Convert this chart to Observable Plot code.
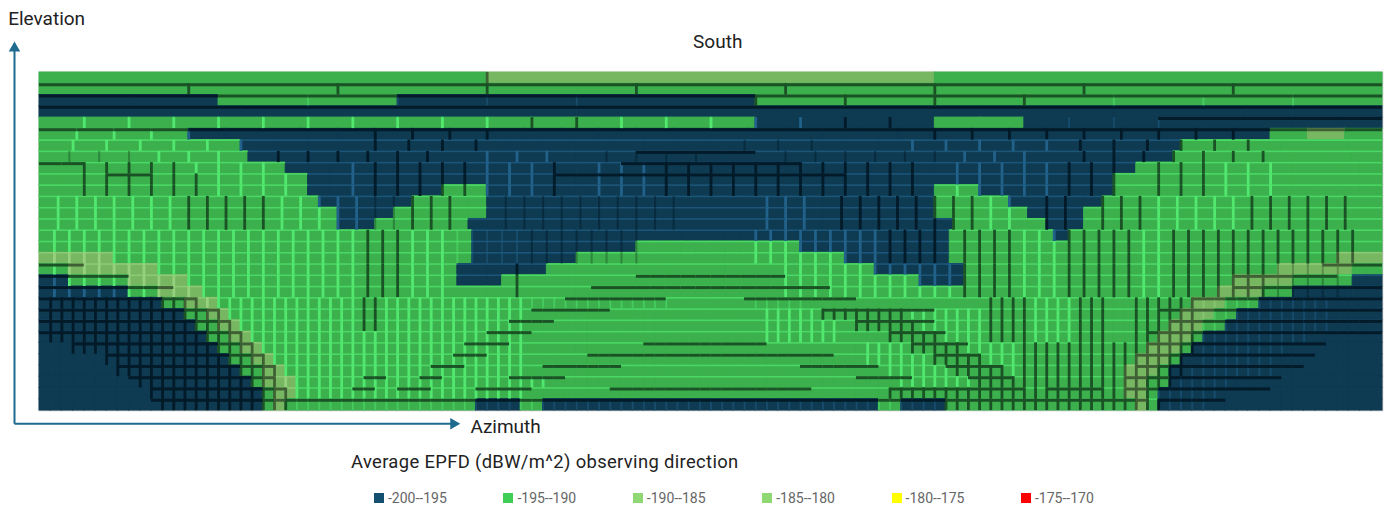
<!DOCTYPE html>
<html>
<head>
<meta charset="utf-8">
<script src="https://cdn.jsdelivr.net/npm/d3@7"></script>
<script src="https://cdn.jsdelivr.net/npm/@observablehq/plot@0.6"></script>
<style>
  html, body { margin: 0; padding: 0; background: #fff; }
  body { width: 1386px; height: 508px; overflow: hidden; font-family: Roboto, sans-serif; }
  #chart svg { display: block; }
  #chart svg g[aria-label="rect"], #chart svg g[aria-label="rule"] { filter: blur(0.45px); }
  #title { position: absolute; left: 351px; top: 451px; font-size: 18.4px; letter-spacing: 0.35px; color: #222; white-space: nowrap; }
  #legend { position: absolute; left: 374px; top: 490px; display: flex; font-size: 14px; color: #666; }
  #legend .item { width: 129.4px; display: flex; align-items: center; white-space: nowrap; }
  #legend .sw { width: 10px; height: 10px; margin-right: 4px; flex: none; }
</style>
</head>
<body>
<div id="chart"></div>
<div id="title"></div>
<div id="legend"></div>
<script>
// Legend
const legendLabels = ["-200--195", "-195--190", "-190--185", "-185--180", "-180--175", "-175--170"];
const legendColors = ["#14506f", "#3fcf57", "#90d873", "#90d873", "#ffff00", "#ff0000"];

// Classes seen on the map (N = -200..-195, G = -195..-190, O = -190..-185)
const classKeys = ["N", "G", "O"];
const classFills = ["#0e3a52", "#3bb04c", "#78b762"];
const seamLight = {N: "#22628a", G: "#52e870", O: "#96d27e"};
const seamDark = {N: "#031a28", G: "#1a5125", O: "#3f6034"};

// Cells per elevation band, from 87-90 deg down to 0-3 deg
const cellsPerBand = [3, 9, 15, 20, 30, 36, 40, 45, 60, 60, 60, 72, 72, 72, 90, 90, 90, 90, 90, 90,
  120, 120, 120, 120, 120, 120, 120, 120, 120, 120];

// EPFD class of the cells along each band, as run lengths from azimuth 0
const bandRuns = [
  "1G 1O 1G",
  "9G",
  "2N 2G 4N 7G",
  "20N",
  "16G 4N 2G 8N",
  "4G 29N 1G 1O 1G",
  "6G 28N 6G",
  "7G 31N 7G",
  "11G 38N 11G",
  "12G 36N 12G",
  "12G 6N 2G 20N 2G 6N 12G",
  "15G 5N 4G 24N 4G 5N 15G",
  "16G 3N 5G 24N 5G 3N 16G",
  "16G 2N 5G 26N 5G 2N 16G",
  "29G 32N 7G 1N 21G",
  "29G 11N 11G 10N 29G",
  "5O 24G 7N 18G 7N 26G 3O",
  "2G 6O 20G 6N 22G 6N 21G 5O 2G",
  "2N 4G 4O 18G 3N 28G 3N 18G 4O 4G 2N",
  "6N 2G 3O 68G 3O 2G 6N",
  "11N 2G 3O 87G 3O 3G 11N",
  "13N 2G 2O 85G 3O 2G 13N",
  "14N 2G 2O 83G 3O 2G 14N",
  "15N 2G 2O 81G 3O 1G 16N",
  "16N 2G 2O 79G 3O 1G 17N",
  "17N 2G 2O 77G 3O 1G 18N",
  "18N 2G 2O 75G 3O 1G 19N",
  "19N 1G 3O 74G 2O 2G 19N",
  "20N 1G 2O 74G 2O 1G 20N",
  "20N 1G 1O 17G 4N 2G 30N 2G 4N 17G 1O 1G 20N"
];

// Seams between neighbouring cells of a band: azimuth range + kind
// L light, l faint light, D dark, d faint dark
const verticalSeams = [
  "0-130D",
  "0-360D",
  "60-150l 190-270D 270-340l 340-360D",
  "",
  "0-125L 125-150D 150-208L 208-235D 270-305l",
  "0-40L 85-125D 235-325D",
  "0-55L 85-125D 185-210d 232-272L 275-325D",
  "0-30d 30-55L 60-110D 120-143L 145-180d 195-240d 240-270L 275-328D",
  "8-37D 38-62L 82-86L 88-116D 118-134L 136-140D 148-164L 165-235D 244-272L 273-290D 298-313D 315-332L",
  "8-42D 42-70L 82-86L 88-116D 118-134L 136-140D 148-164L 165-235D 244-272L 273-290D 298-313D 315-332L",
  "8-42D 42-70L 82-86L 88-116D 118-134L 136-140D 148-164L 165-235D 244-272L 273-290D 298-313D 315-332L",
  "0-38L 38-60D 60-88L 90-98d 100-112D 125-170d 195-207L 215-236D 240-252D 252-262L 268-278D 284-296D 297-322L 324-352D",
  "0-38L 38-60D 60-88L 90-98d 100-112D 125-170d 195-207L 215-236D 240-252D 252-262L 268-278D 284-296D 297-322L 324-352D",
  "0-38L 38-60D 60-88L 90-98d 100-112D 125-170d 195-207L 215-236D 240-252D 252-262L 268-278D 284-296D 297-322L 324-352D",
  "0-86L 87-96D 97-110L 110-130l 130-160d 190-225L 227-243D 247-260D 262-273L 275-292D 293-302L 303-328D 328-352D",
  "0-86L 87-96D 97-110L 110-130l 130-160d 190-225L 227-243D 247-260D 262-273L 275-292D 293-302L 303-328D 328-352D",
  "0-86L 87-96D 97-110L 110-130l 130-160d 190-225L 227-243D 247-260D 262-273L 275-292D 293-302L 303-328D 328-352D",
  "0-86L 87-96D 97-110L 127-131D 200-245L 247-260D 262-273L 275-292D 293-302L 303-328D 328-350d",
  "0-86L 87-96D 97-110L 127-131D 200-245L 247-260D 262-273L 275-292D 293-302L 303-328D 328-350d",
  "0-86L 87-96D 97-110L 127-131D 200-245L 247-260D 262-273L 275-292D 293-302L 303-328D 328-350d",
  "0-42D 42-84L 85-90D 90-130L 130-170l 190-205l 254-266D 266-278L 279-286D 293-300D 303-310D 312-345l",
  "0-48D 48-84L 85-90D 90-130L 194-209L 210-232D 232-253L 254-266D 266-278L 279-286D 293-300D 303-310D 312-345l",
  "0-51D 51-84L 85-90D 90-130L 194-213L 218-236D 236-253L 254-266D 266-278L 279-286D 293-300D 303-310D 312-345l",
  "0-54D 54-130L 194-213L 227-242D 242-253L 254-266D 266-278L 279-286D 293-300D 303-310D 312-340l",
  "8-57D 57-130L 222-232L 233-248D 248-263L 264-297D 298-310D 312-335l",
  "17-60D 60-130L 222-238L 239-252D 252-263L 264-297D 298-308D 310-332l",
  "20-63D 63-130L 226-243L 244-258D 258-263L 264-297D 300-306D 306-330l",
  "25-64D 64-135L 230-249L 250-262D 264-297D 300-304D 304-320l",
  "29-66D 66-130L 227-265D 264-297D 300-315l",
  "31-66D 66-240l 240-300D 300-312l"
];

// Azimuth ranges where the line on top of a band is dark
const darkTops = [
  "", "0-360", "0-360", "0-360", "305-360", "0-360", "", "158-191", "0-11 158-205", "18-30 137-215",
  "", "", "", "", "", "", "", "0-11 345-360", "0-24 160-200 322-348", "0-35 148-211 320-360",
  "0-42 140-168 188-220 310-360", "0-48 132-152 209-240 300-360", "0-51 125-138 218-240 303-360",
  "0-54 120-132 227-242 298-360", "8-57 114-125 161-195 233-248 296-345",
  "17-60 111-119 147-213 239-252 294-342", "20-63 105-114 135-156 203-225 244-258 293-339",
  "25-64 87-92 102-107 126-140 218-234 250-262 292-332",
  "29-66 83-90 95-106 116-132 153-207 227-264 269-285 292-329", "31-296 300-319"
];

const titleText = "Average EPFD (dBW/m^2) observing direction";
const leftNotes = [
  {label: "Elevation", az: -8.4, el: 104.3},
  {label: "Azimuth", az: 115.5, el: -4.3}
];
const middleNotes = [{label: "South", az: 181.8, el: 98.2}];
const axisArrows = [
  {az1: -6.7, el1: -3.5, az2: -6.7, el2: 96.5, rotate: 0},
  {az1: -6.7, el1: -3.5, az2: 111, el2: -3.5, rotate: 90}
];

// ---- build tables from the arrays above
const cells = [];
bandRuns.forEach((runs, band) => {
  const n = cellsPerBand[band], w = 360 / n;
  let k = 0;
  runs.split(" ").forEach(r => {
    const count = parseInt(r), cls = r.slice(-1);
    for (let i = 0; i < count; i++, k++) {
      cells.push({band, k, n, cls, az1: k * w, az2: (k + 1) * w, el1: 87 - 3 * band, el2: 90 - 3 * band});
    }
  });
});
const parseRanges = s => s ? s.split(" ").map(t => {
  const m = t.match(/^(\d+)-(\d+)([LlDd]?)$/);
  return {from: +m[1], to: +m[2], kind: m[3]};
}) : [];

const vSeams = [];
verticalSeams.forEach((spec, band) => {
  const ranges = parseRanges(spec);
  cells.filter(c => c.band === band && c.k > 0).forEach(c => {
    const r = ranges.find(r => c.az1 >= r.from && c.az1 <= r.to);
    if (r) vSeams.push({az: c.az1, el1: c.el1, el2: c.el2, cls: c.cls, kind: r.kind});
  });
});
const lightTops = cells.filter(c => c.band >= 6 && !(c.cls === "N" && c.band >= 24));
const dTops = [];
darkTops.forEach((spec, band) => {
  const ranges = parseRanges(spec);
  cells.filter(c => c.band === band).forEach(c => {
    const mid = (c.az1 + c.az2) / 2;
    if (ranges.some(r => mid >= r.from && mid <= r.to)) dTops.push(c);
  });
});

const seamColor = d => (d.kind === "L" || d.kind === "l") ? seamLight[d.cls] : seamDark[d.cls];
const isStrong = d => d.kind === "L" || d.kind === "D";

const chart = Plot.plot({
  width: 1386,
  height: 440,
  marginLeft: 39,
  marginRight: 4,
  marginTop: 72,
  marginBottom: 30,
  x: {domain: [0, 360], axis: null},
  y: {domain: [0, 90], axis: null},
  color: {domain: classKeys, range: classFills},
  marks: [
    Plot.frame({stroke: "#c4c4c4", strokeWidth: 1.5}),
    Plot.rect(cells, {x1: "az1", x2: "az2", y1: "el1", y2: "el2", fill: "cls", stroke: "cls", strokeWidth: 1}),
    Plot.ruleY(lightTops, {y: "el2", x1: "az1", x2: "az2", stroke: d => seamLight[d.cls], strokeWidth: 1.6, strokeOpacity: 0.7}),
    Plot.ruleX(vSeams.filter(d => !isStrong(d)), {x: "az", y1: "el1", y2: "el2", stroke: seamColor, strokeWidth: 2, strokeOpacity: 0.45}),
    Plot.ruleX(vSeams.filter(isStrong), {x: "az", y1: "el1", y2: "el2", stroke: seamColor, strokeWidth: 2.8}),
    Plot.ruleY(dTops, {y: "el2", x1: "az1", x2: "az2", stroke: d => seamDark[d.cls], strokeWidth: 3, dy: 1}),
    Plot.link(axisArrows, {x1: "az1", y1: "el1", x2: "az2", y2: "el2", stroke: "#1f6a8f", strokeWidth: 2}),
    Plot.dot(axisArrows, {x: "az2", y: "el2", symbol: "triangle2", r: 5.5, fill: "#1f6a8f", rotate: "rotate"}),
    Plot.text(leftNotes, {x: "az", y: "el", text: "label", textAnchor: "start", fontSize: 19, fill: "#222", fontFamily: "Roboto, sans-serif"}),
    Plot.text(middleNotes, {x: "az", y: "el", text: "label", fontSize: 19, fill: "#222", fontFamily: "Roboto, sans-serif"})
  ]
});
document.getElementById("chart").appendChild(chart);
document.getElementById("title").textContent = titleText;
const legend = document.getElementById("legend");
legendLabels.forEach((label, i) => {
  const item = document.createElement("div");
  item.className = "item";
  const sw = document.createElement("span");
  sw.className = "sw";
  sw.style.background = legendColors[i];
  item.appendChild(sw);
  item.appendChild(document.createTextNode(label));
  legend.appendChild(item);
});
</script>
</body>
</html>
